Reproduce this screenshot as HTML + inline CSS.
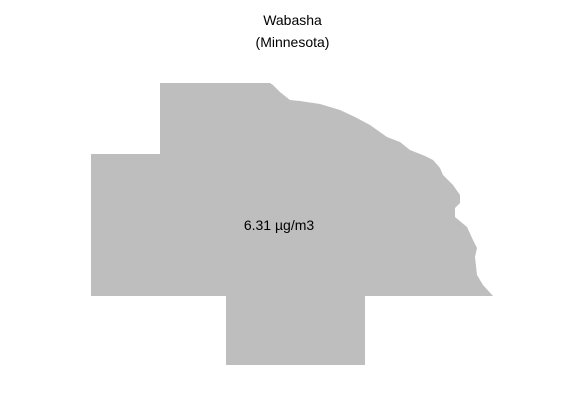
<!DOCTYPE html>
<html><head><meta charset="utf-8"><style>
body{margin:0;background:#fff;}
svg{display:block;font-family:"Liberation Sans",sans-serif;}
</style></head><body>
<svg width="585" height="409">
<rect width="585" height="409" fill="#fff"/>
<text x="292.5" y="25" text-anchor="middle" font-size="14" fill="#000">Wabasha</text>
<text x="292.5" y="47" text-anchor="middle" font-size="14" fill="#000">(Minnesota)</text>
<polygon fill="#bebebe" points="162,83 270,83 273,85 280,92 290,100 300,101 320,104 340,110 355,117 370,125 387,137 400,142 410,150 425,156 433,160 440,168 443,175 453,185 460,195 460,203 455,208 455,217 467,227 473,240 477,248 475,257 477,275 483,285 493,296 365,296 365,365 226,365 226,296 91,296 91,154 160,154 160,83"/>
<text x="279" y="230" text-anchor="middle" font-size="14" fill="#000">6.31 µg/m3</text>
</svg>
</body></html>
